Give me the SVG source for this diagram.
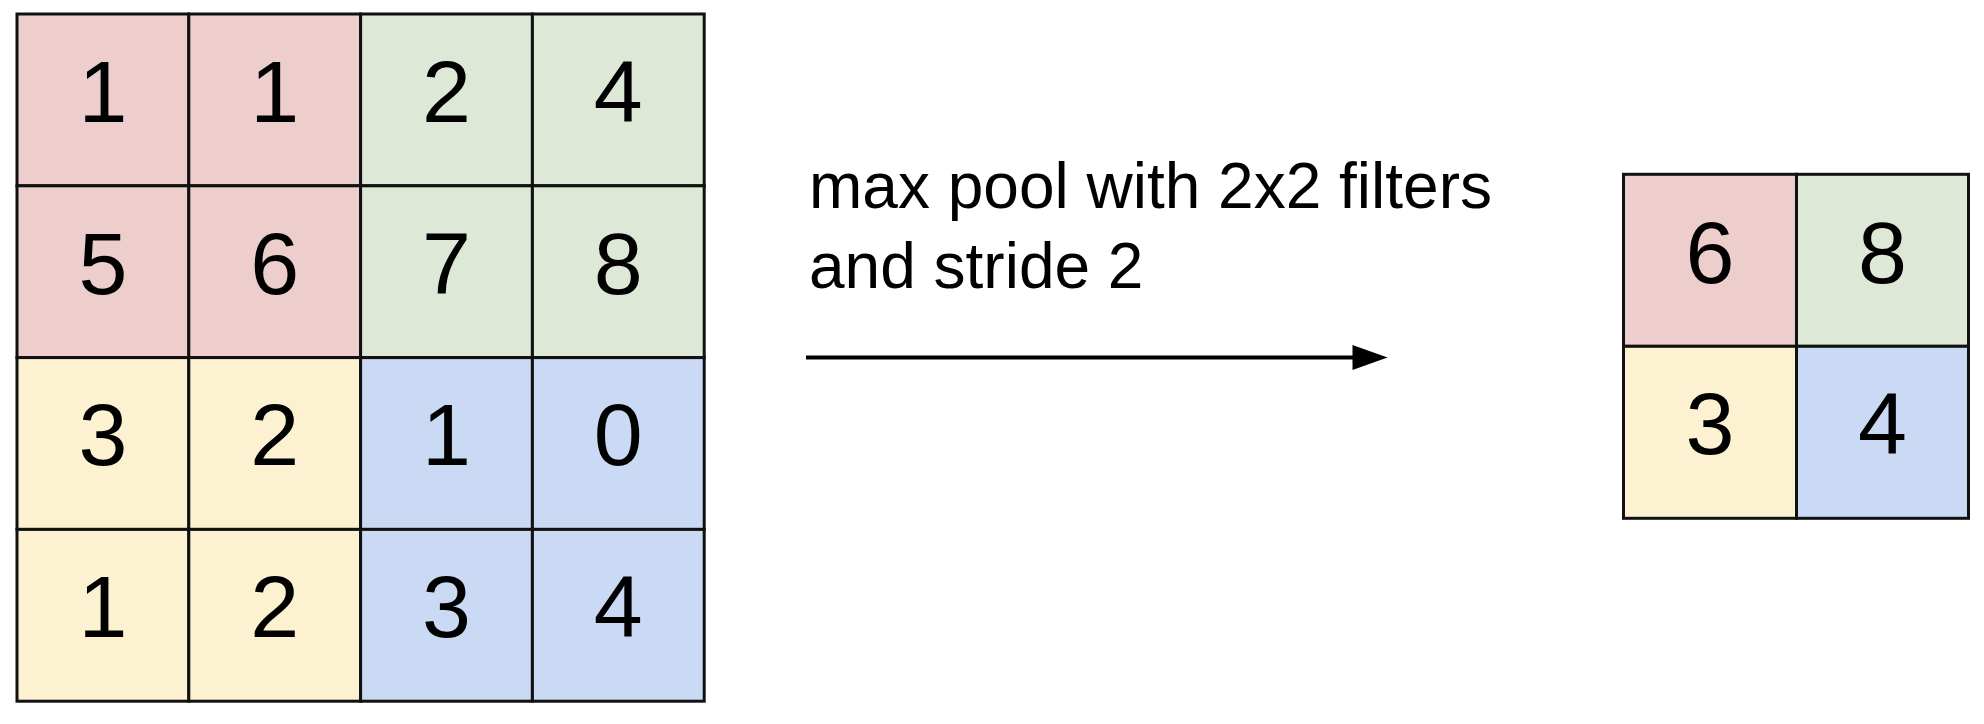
<svg xmlns="http://www.w3.org/2000/svg" width="1984" height="724" viewBox="0 0 1984 724">
<defs>
<style>
.cell{stroke:#111;stroke-width:3}
.r{fill:#eecdcd}.g{fill:#dde9d6}.y{fill:#fcf1d1}.b{fill:#cbdaf4}
.d{font-family:"Liberation Sans",Arial,sans-serif;font-size:88px;fill:#000;text-anchor:middle}
.lbl{font-family:"Liberation Sans",Arial,sans-serif;font-size:64px;fill:#000}
</style>
<marker id="ah" markerWidth="9" markerHeight="7" refX="0" refY="3.5" orient="auto" markerUnits="userSpaceOnUse" viewBox="0 0 9 7">
<path d="M0,0 L9,3.5 L0,7 Z" fill="#000"/>
</marker>
</defs>
<rect width="1984" height="724" fill="#fff"/>
<g id="input">
<g id="in-r0c0"><rect class="cell r" x="17" y="14" width="171.8" height="171.8"/><text class="d" x="102.9" y="122">1</text></g>
<g id="in-r0c1"><rect class="cell r" x="188.8" y="14" width="171.8" height="171.8"/><text class="d" x="274.7" y="122">1</text></g>
<g id="in-r0c2"><rect class="cell g" x="360.6" y="14" width="171.8" height="171.8"/><text class="d" x="446.5" y="122">2</text></g>
<g id="in-r0c3"><rect class="cell g" x="532.4" y="14" width="171.8" height="171.8"/><text class="d" x="618.3" y="122">4</text></g>
<g id="in-r1c0"><rect class="cell r" x="17" y="185.8" width="171.8" height="171.8"/><text class="d" x="102.9" y="293.5">5</text></g>
<g id="in-r1c1"><rect class="cell r" x="188.8" y="185.8" width="171.8" height="171.8"/><text class="d" x="274.7" y="293.5">6</text></g>
<g id="in-r1c2"><rect class="cell g" x="360.6" y="185.8" width="171.8" height="171.8"/><text class="d" x="446.5" y="293.5">7</text></g>
<g id="in-r1c3"><rect class="cell g" x="532.4" y="185.8" width="171.8" height="171.8"/><text class="d" x="618.3" y="293.5">8</text></g>
<g id="in-r2c0"><rect class="cell y" x="17" y="357.6" width="171.8" height="171.8"/><text class="d" x="102.9" y="465">3</text></g>
<g id="in-r2c1"><rect class="cell y" x="188.8" y="357.6" width="171.8" height="171.8"/><text class="d" x="274.7" y="465">2</text></g>
<g id="in-r2c2"><rect class="cell b" x="360.6" y="357.6" width="171.8" height="171.8"/><text class="d" x="446.5" y="465">1</text></g>
<g id="in-r2c3"><rect class="cell b" x="532.4" y="357.6" width="171.8" height="171.8"/><text class="d" x="618.3" y="465">0</text></g>
<g id="in-r3c0"><rect class="cell y" x="17" y="529.4" width="171.8" height="171.8"/><text class="d" x="102.9" y="637">1</text></g>
<g id="in-r3c1"><rect class="cell y" x="188.8" y="529.4" width="171.8" height="171.8"/><text class="d" x="274.7" y="637">2</text></g>
<g id="in-r3c2"><rect class="cell b" x="360.6" y="529.4" width="171.8" height="171.8"/><text class="d" x="446.5" y="637">3</text></g>
<g id="in-r3c3"><rect class="cell b" x="532.4" y="529.4" width="171.8" height="171.8"/><text class="d" x="618.3" y="637">4</text></g>
</g>
<g id="label">
<text class="lbl" x="809" y="208">max pool with 2x2 filters</text>
<text class="lbl" x="809" y="288">and stride 2</text>
</g>
<g id="connectors">
<line x1="806" y1="357.5" x2="1353" y2="357.5" stroke="#000" stroke-width="4"/>
<path d="M1352.5,345 L1387.5,357.5 L1352.5,370 Z" fill="#000"/>
</g>
<g id="output">
<g id="out-r0c0"><rect class="cell r" x="1623.5" y="174.3" width="173" height="172"/><text class="d" x="1710" y="282.5">6</text></g>
<g id="out-r0c1"><rect class="cell g" x="1796.5" y="174.3" width="172" height="172"/><text class="d" x="1882.5" y="282.5">8</text></g>
<g id="out-r1c0"><rect class="cell y" x="1623.5" y="346.3" width="173" height="172"/><text class="d" x="1710" y="454">3</text></g>
<g id="out-r1c1"><rect class="cell b" x="1796.5" y="346.3" width="172" height="172"/><text class="d" x="1882.5" y="454">4</text></g>
</g>
</svg>
